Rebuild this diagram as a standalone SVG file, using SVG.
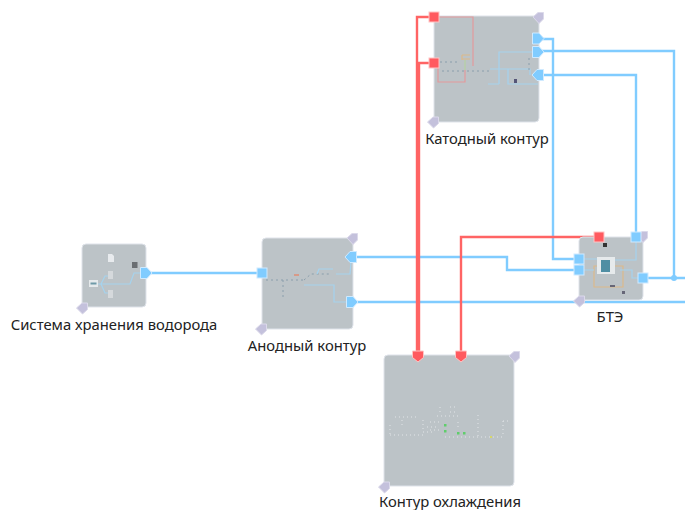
<svg xmlns="http://www.w3.org/2000/svg" width="685" height="510" viewBox="0 0 685 510">
<style>
text{font-family:"Noto Sans","Open Sans","DejaVu Sans",sans-serif;font-size:14.8px;fill:#222;text-anchor:middle}
.box{fill:#bcc3c7;stroke:#dfe3ea;stroke-width:1}
.blue{fill:none;stroke:#80ccff;stroke-width:2.4}
.red{fill:none;stroke:#ff6464;stroke-width:2.4}
.pb{fill:#80ccff;stroke:#cfeaff;stroke-width:1}
.pr{fill:#ff5a5f;stroke:#ffc4c4;stroke-width:1}
.c{fill:#c4c1dc;stroke:#dbd9ea;stroke-width:1}
.ib{fill:none;stroke:#a5d3ee;stroke-width:1.2}
.ir{fill:none;stroke:#e39a9c;stroke-width:1.2}
.io{fill:none;stroke:#dcb98a;stroke-width:1.2}
.dash{fill:none;stroke:#8a9eac;stroke-width:1;stroke-dasharray:2 3}
.wd{fill:none;stroke:#e2e5e8;stroke-width:1;stroke-dasharray:1 3}
</style>
<defs>
<path id="cr" d="M-5 -1L0 -5.500H5.500V1L1 5.500Z"/>
<path id="cl" d="M-5.500 0L0 -5H5.500V1.500L0.500 6Z"/>
<path id="po" d="M-5.500 -5.500H1L6 0L1 5.500H-5.500Z"/>
<path id="pl" d="M5.500 -5.500H-1L-6 0L-1 5.500H5.500Z"/>
<path id="pd" d="M-5.500 -4H5.500V2.500L0 7L-5.500 2.500Z"/>
<rect id="ps" x="-5" y="-5" width="10" height="10"/>
</defs>
<g id="connectors">
<path class="blue" d="M146 273H262"/>
<path class="blue" d="M347 257H507V270H579"/>
<path class="blue" d="M352 302H685"/>
<path class="blue" d="M538 39H553V259H579"/>
<path class="blue" d="M538 51H674V278"/>
<path class="blue" d="M538 75H636V237"/>
<path class="blue" d="M643 278H685"/>
<circle cx="674" cy="278" r="3" fill="#80ccff"/>
<path class="red" d="M434 17H417V352"/>
<path class="red" d="M434 63H419V352"/>
<path class="red" d="M599 237H461V352"/>
</g>
<g id="node-storage">
<rect class="box" x="82" y="244" width="64" height="63" rx="4"/>
<use href="#cl" class="c" x="82" y="308"/>
<path class="ib" d="M98 284H101L105 276H110M101 284L105 293H110M98 284H130L134 273H143"/>
<rect x="89" y="280" width="9" height="7" fill="#e6eaec"/><rect x="90.500" y="282.500" width="6" height="2" fill="#6f9aa8"/>
<rect x="108" y="271" width="5" height="8" fill="#d5d9dc"/><rect x="108" y="290" width="5" height="8" fill="#d5d9dc"/>
<path d="M108 254h4l2 2v6h-6z" fill="#e8ebee"/>
<rect x="132" y="262" width="5.500" height="6" fill="#6a6e72"/>
<use href="#po" class="pb" x="146" y="273"/>
<text x="114" y="330">Система хранения водорода</text>
</g>
<g id="node-anode">
<rect class="box" x="262" y="238" width="91" height="91" rx="4"/>
<use href="#cr" class="c" x="352" y="239"/>
<use href="#cl" class="c" x="261" y="329"/>
<path class="dash" d="M266 280H304M283 280V300M304 280L311 274H330"/>
<path class="ib" d="M304 285H334V302H348M317 274L319 269H333M351 262L350 274H336"/>
<rect x="294" y="274" width="5" height="2" fill="#d89a88"/>
<use href="#ps" class="pb" x="262" y="273"/>
<use href="#pl" class="pb" x="351" y="257"/>
<use href="#po" class="pb" x="352" y="302"/>
<text x="307" y="351">Анодный контур</text>
</g>
<g id="node-cathode">
<rect class="box" x="434" y="16" width="105" height="106" rx="4"/>
<use href="#cr" class="c" x="538" y="18"/>
<use href="#cl" class="c" x="433" y="122"/>
<path class="ir" d="M434 17H473V66M438 63V82H465V70"/>
<path class="io" d="M462 55H470M462 59H470M462 55V60"/>
<path fill="none" stroke="#b4d49a" stroke-width="1" d="M465 60V70"/>
<path class="dash" d="M440 62H458M442 71H490"/>
<path class="ib" d="M490 69H530V75M499 69V52H534M499 69V84M508 69V84H538M499 84H488"/>
<path class="dash" d="M529 58V71"/>
<rect x="514" y="79" width="3" height="4" fill="#557"/>
<use href="#ps" class="pr" x="434" y="17"/>
<use href="#ps" class="pr" x="434" y="63"/>
<use href="#po" class="pb" x="538" y="38.500"/>
<use href="#po" class="pb" x="538" y="52"/>
<use href="#pl" class="pb" x="538" y="75"/>
<text x="487" y="144">Катодный контур</text>
</g>
<g id="node-bte">
<rect class="box" x="579" y="237" width="64" height="63" rx="4"/>
<use href="#cr" class="c" x="642" y="237"/>
<use href="#cl" class="c" x="579" y="301"/>
<path class="io" d="M594 266H623V287H594Z"/>
<path class="ib" d="M584 259H597M584 270H594M612 260H636V240M620 270H632V278H639"/>
<rect x="597" y="257" width="18" height="17" fill="#e6eaec"/>
<rect x="601" y="260" width="9" height="12" fill="#4f8ea3"/>
<rect x="603" y="243" width="4" height="4" fill="#333"/>
<rect x="610" y="285" width="5" height="2" fill="#667"/>
<rect x="622" y="291" width="3" height="3" fill="#667"/>
<use href="#ps" class="pb" x="579" y="259"/>
<use href="#ps" class="pb" x="579" y="270"/>
<use href="#ps" class="pb" x="636" y="237"/>
<use href="#ps" class="pb" x="643" y="278"/>
<use href="#ps" class="pr" x="599" y="237"/>
<text x="610" y="322">БТЭ</text>
</g>
<g id="node-cooling">
<rect class="box" x="384" y="355" width="130" height="131" rx="4"/>
<use href="#cr" class="c" x="514" y="357"/>
<use href="#cl" class="c" x="384" y="487"/>
<path class="wd" d="M395 417H418M390 435H425M390 425V435M402 420V426M423 420V432H434M430 422H440M430 430H440M427 427H438M440 407V415M450 407H458M450 412H456M437 416H460M445 437H503M503 421V437M503 421H510M478 415V437M458 422V430"/>
<rect x="444" y="424" width="2.500" height="2.500" fill="#5fce6b"/><rect x="444" y="430" width="2.500" height="2.500" fill="#5fce6b"/><rect x="457" y="432" width="2.500" height="2.500" fill="#5fce6b"/><rect x="463" y="432" width="2.500" height="2.500" fill="#5fce6b"/><rect x="490" y="436" width="2" height="2" fill="#d6d66a"/>
<use href="#pd" class="pr" x="418" y="355"/>
<use href="#pd" class="pr" x="461" y="355"/>
<text x="450" y="507">Контур охлаждения</text>
</g>
</svg>
